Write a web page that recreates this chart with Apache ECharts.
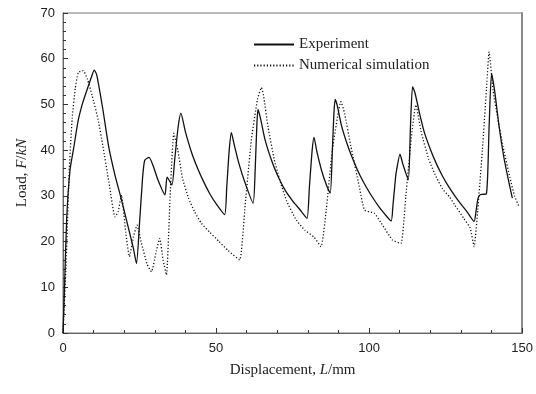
<!DOCTYPE html>
<html>
<head>
<meta charset="utf-8">
<script src="https://cdn.jsdelivr.net/npm/echarts@6/dist/echarts.min.js"></script>
<style>
  html, body { margin: 0; padding: 0; background: #fff; }
  #chart { width: 536px; height: 394px; }
</style>
</head>
<body>
<div id="chart"></div>
<script>
// 实验曲线 (displacement L / load F)
var expL = [0, 0.5, 1.2, 2.3, 3.5, 5, 6.5, 8, 9.3, 10.2, 11, 13, 15, 17, 19, 21, 23, 24,
  25, 26, 26.7, 28.1, 29.5, 31, 33.3, 34, 35.6, 36.5, 37.6, 38.5, 40, 42, 44, 46, 48, 50, 52.8,
  53.5, 54.3, 55, 56, 57.5, 59.5, 62.1, 62.8, 63.3, 63.7, 64.5, 66, 68, 70, 72.5, 75, 77.5, 79.7,
  80.5, 81.4, 82, 83, 84.5, 86, 87.3, 88, 88.5, 88.9, 89.5, 91, 93, 95, 97, 99, 101, 103, 105, 107.2,
  107.8, 108.5, 108.8, 110.1, 111, 112.8, 113.5, 114.2, 115, 116.5, 118, 120, 122, 124, 126, 128, 130, 132, 134.3,
  135, 135.6, 136.4, 138.3, 139.2, 140, 141, 142.5, 144, 145.5, 146.8];
var expF = [0, 10, 25, 35.7, 40.5, 46.6, 50.5, 53.5, 56, 57.5, 56.5, 49, 40.5, 34.5, 29.4, 24, 18.5, 15.2,
  24, 34, 37.8, 38.4, 36.5, 33.5, 30.2, 34.1, 32.4, 38, 45, 48.1, 44, 39.5, 36, 33, 30.4, 28.3, 25.9,
  32, 40, 43.8, 41, 37, 32.8, 28.4, 36, 45, 48.9, 47, 42.3, 38, 34.6, 31.3, 28.9, 26.9, 25.1,
  32, 40, 42.8, 39.5, 35.5, 32.5, 30.6, 40, 48, 51.1, 50, 45.3, 41, 37.5, 34.5, 32, 29.8, 27.8, 26.1, 24.5,
  28, 33, 34.9, 39.1, 37, 33.5, 45, 53.9, 52.5, 48, 44, 40.2, 37, 34.3, 32, 30, 28.2, 26.5, 24.4,
  27, 29.5, 30.3, 30.4, 45, 56.8, 53, 45, 38.5, 33.5, 29.5];

// 数值模拟
var simL = [0, 1, 2, 3, 4, 5, 6.6, 8, 9.5, 11.5, 13, 15, 17, 18, 19.1, 20.5, 21.7, 23, 24.2, 25.5,
  27.5, 28.9, 30.5, 31.6, 32.7, 33.8, 35, 36.2, 37.5, 39, 41, 43, 45.2, 48, 51, 54, 57.7,
  59.5, 61.5, 63.5, 64.8, 65.5, 67, 69, 70.8, 73, 76.2, 79, 82, 84.3, 86, 88, 90.8, 92, 94, 96.8,
  98.5, 101.7, 104, 107.7, 110.4, 112, 114, 115.3, 117, 119.5, 122, 124, 126.2, 128, 131, 133, 134.3,
  135.5, 137, 138.5, 139.2, 140.5, 142, 144, 146, 147.5, 149];
var simF = [0, 15, 35, 47, 53.5, 57, 57.4, 55.5, 52, 46.6, 41, 33, 25.4, 26.5, 30.2, 22, 16.7, 21, 23.6, 20,
  15, 13.4, 18, 20.7, 16, 12.7, 30, 43.7, 40, 34, 29.5, 26.5, 24, 22, 20, 18, 16,
  28, 42, 51, 53.7, 52, 45, 38, 33.5, 29, 24.7, 22.5, 21, 18.9, 27, 40, 50.6, 48, 41, 32,
  26.9, 26.2, 24, 20.3, 19.6, 30, 44, 49.9, 44, 38, 34, 31.5, 29.8, 28, 25, 23, 18.9,
  27, 40, 55, 61.5, 53, 47, 40, 34, 30, 27.6];

var xTicks = [0, 50, 100, 150];
var yTicks = [0, 10, 20, 30, 40, 50, 60, 70];

function pairs(a, b) {
  return a.map(function (v, i) { return [v, b[i]]; });
}

var myChart = echarts.init(document.getElementById('chart'));
var tickFont = { fontFamily: 'Liberation Sans', fontSize: 13, color: '#222' };
var serif = 'Liberation Serif';

myChart.setOption({
  animation: false,
  backgroundColor: '#fff',
  grid: { left: 63, right: 13, top: 13, bottom: 61, show: true, borderColor: '#777', borderWidth: 1 },
  legend: {
    orient: 'vertical',
    left: 248,
    top: 32,
    itemWidth: 40,
    itemHeight: 8,
    itemGap: 6,
    itemStyle: { color: 'transparent', borderColor: 'transparent', borderWidth: 0 },
    textStyle: { fontFamily: serif, fontSize: 15, color: '#222', padding: [0, 0, 0, 0] },
    data: ['Experiment', 'Numerical simulation']
  },
  xAxis: {
    type: 'value',
    min: xTicks[0],
    max: xTicks[xTicks.length - 1],
    interval: 50,
    name: 'Displacement, {i|L}/mm',
    nameLocation: 'middle',
    nameGap: 30,
    nameTextStyle: {
      fontFamily: serif, fontSize: 15, color: '#222',
      rich: { i: { fontFamily: serif, fontSize: 15, fontStyle: 'italic', color: '#222' } }
    },
    axisLine: { lineStyle: { color: '#666', width: 1 } },
    axisTick: { inside: true, length: 5, lineStyle: { color: '#333' } },
    minorTick: { show: true, splitNumber: 5, length: 3, lineStyle: { color: '#333' } },
    splitLine: { show: false },
    axisLabel: Object.assign({ margin: 9 }, tickFont)
  },
  yAxis: [{
    type: 'value',
    min: yTicks[0],
    max: yTicks[yTicks.length - 1],
    interval: 10,
    name: 'Load, {i|F}/{i|kN}',
    nameLocation: 'middle',
    nameGap: 33,
    nameTextStyle: {
      fontFamily: serif, fontSize: 15, color: '#222',
      rich: { i: { fontFamily: serif, fontSize: 15, fontStyle: 'italic', color: '#222' } }
    },
    axisLine: { show: true, lineStyle: { color: '#666', width: 1 } },
    axisTick: { inside: true, length: 5, lineStyle: { color: '#333' } },
    minorTick: { show: true, splitNumber: 5, length: 3, lineStyle: { color: '#333' } },
    splitLine: { show: false },
    axisLabel: Object.assign({ margin: 8 }, tickFont)
  }, {
    type: 'value',
    position: 'right',
    min: 0,
    max: 70,
    axisLine: { show: true, lineStyle: { color: '#888', width: 2 } },
    axisTick: { show: false },
    axisLabel: { show: false },
    splitLine: { show: false }
  }],
  series: [{
    name: 'Experiment',
    type: 'line',
    data: pairs(expL, expF),
    showSymbol: false,
    symbol: 'none',
    smooth: 0.2,
    lineStyle: { color: '#111', width: 1.3, type: 'solid' },
    itemStyle: { color: '#111' }
  }, {
    name: 'Numerical simulation',
    type: 'line',
    data: pairs(simL, simF),
    showSymbol: false,
    symbol: 'none',
    smooth: 0.15,
    lineStyle: { color: '#111', width: 1.3, type: [1.2, 2] },
    itemStyle: { color: '#111' }
  }]
});
</script>
</body>
</html>
